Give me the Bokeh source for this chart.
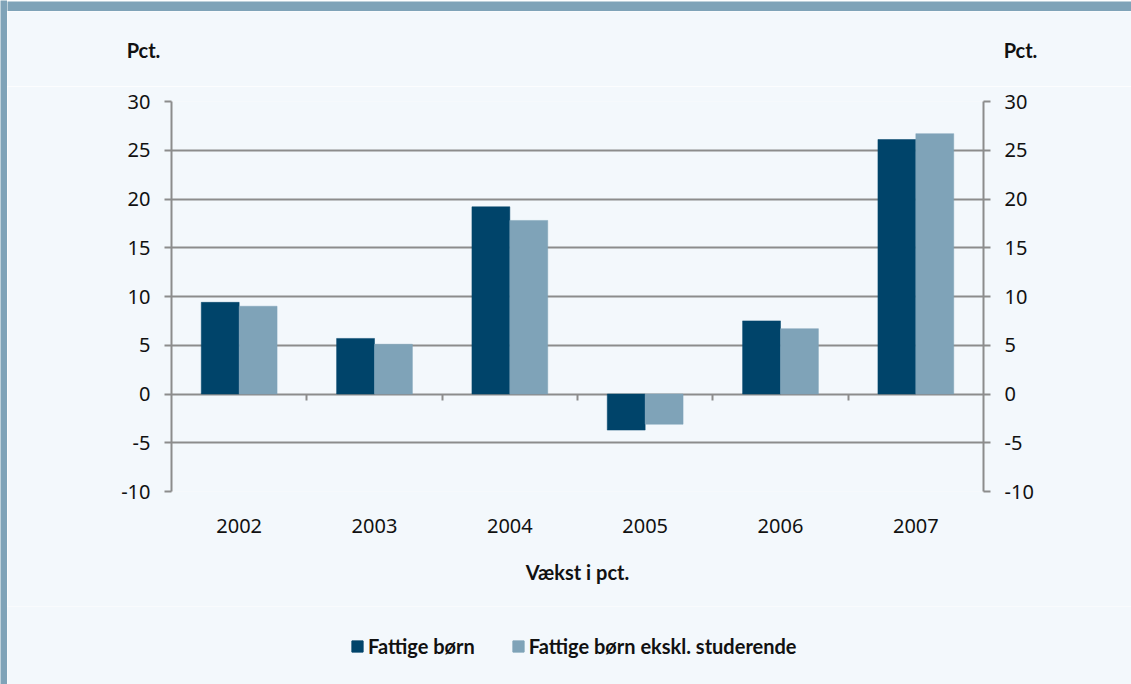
from bokeh.plotting import figure
from bokeh.layouts import row, column
from bokeh.models import (ColumnDataSource, Range1d, LinearAxis, FixedTicker,
                          Legend, LegendItem, Label)
from bokeh.embed import file_html
from bokeh.resources import INLINE

years = ["2002", "2003", "2004", "2005", "2006", "2007"]
fattige_boern = [9.4, 5.7, 19.2, -3.7, 7.5, 26.1]
fattige_ekskl_stud = [9.0, 5.1, 17.8, -3.1, 6.7, 26.7]
series_names = ["Fattige børn", "Fattige børn ekskl. studerende"]
y_ticks = [-10, -5, 0, 5, 10, 15, 20, 25, 30]
unit_label = "Pct."
x_title = "Vækst i pct."

DARK = "#00446a"
LIGHT = "#7fa3b8"
BG = "#f3f8fc"
GRID = "#8c8c8c"
TXT = "#111111"
TICK_FONT = "Noto Sans"
BOLD_FONT = "Lato"

W = 1124  # width right of the left strip


def panel(width, height, fill, **kw):
    f = figure(width=width, height=height, x_axis_type=None, y_axis_type=None,
               output_backend="svg", toolbar_location=None, min_border=0, **kw)
    f.frame_align = False
    f.background_fill_color = fill
    f.border_fill_color = fill
    f.outline_line_color = None
    f.grid.visible = False
    return f


# left strip and top band
strip = panel(7, 684, LIGHT)
band = panel(W, 11, LIGHT)

# header with the two "Pct." labels (page pixel coordinates)
header = panel(W, 75, BG, x_range=Range1d(7, 1131), y_range=Range1d(86, 11))
for xc in (143, 1020):
    header.add_layout(Label(x=xc, y=49, text=unit_label, text_font=BOLD_FONT,
                            text_font_style="bold", text_font_size="20px", text_color=TXT,
                            text_align="center", text_baseline="middle"))

# main chart
n = len(years)
centers = [i + 0.5 for i in range(n)]
bw = 0.28
src = ColumnDataSource(dict(xa=[c - bw / 2 for c in centers], xb=[c + bw / 2 for c in centers],
                            a=fattige_boern, b=fattige_ekskl_stud))

p = figure(x_range=Range1d(0, n), y_range=Range1d(-10, 30),
           frame_width=812, frame_height=390,
           output_backend="svg", toolbar_location=None)
p.min_border_left = 164
p.min_border_right = W - 164 - 812
p.min_border_top = 15
p.min_border_bottom = 115
p.background_fill_color = BG
p.border_fill_color = BG
p.outline_line_color = None

p.vbar(x="xa", top="a", bottom=0, width=bw, source=src,
       fill_color=DARK, line_color=DARK, line_width=0.5)
p.vbar(x="xb", top="b", bottom=0, width=bw, source=src,
       fill_color=LIGHT, line_color=LIGHT, line_width=0.5)

p.xgrid.grid_line_color = None
p.ygrid.ticker = FixedTicker(ticks=y_ticks)
p.ygrid.grid_line_color = GRID
p.ygrid.grid_line_width = 2

ytick_text = {t: str(t) for t in y_ticks}


def style_y(ax):
    ax.ticker = FixedTicker(ticks=y_ticks)
    ax.major_label_overrides = ytick_text
    ax.axis_line_color = GRID
    ax.axis_line_width = 2
    ax.major_tick_line_color = GRID
    ax.major_tick_line_width = 2
    ax.major_tick_out = 7
    ax.major_tick_in = 0
    ax.minor_tick_line_color = None
    ax.major_label_text_font = TICK_FONT
    ax.major_label_text_font_size = "20px"
    ax.major_label_text_color = TXT
    ax.major_label_standoff = 14


style_y(p.yaxis[0])
ra = LinearAxis()
style_y(ra)
p.add_layout(ra, "right")

xa = p.xaxis[0]
xa.ticker = FixedTicker(ticks=centers)
xa.major_label_overrides = {c: y for c, y in zip(centers, years)}
xa.axis_line_color = None
xa.major_tick_line_color = None
xa.minor_tick_line_color = None
xa.major_label_text_font = TICK_FONT
xa.major_label_text_font_size = "20px"
xa.major_label_text_color = TXT
xa.major_label_standoff = 21
xa.axis_label = x_title
xa.axis_label_text_font = BOLD_FONT
xa.axis_label_text_font_style = "bold"
xa.axis_label_text_font_size = "20px"
xa.axis_label_text_color = TXT
xa.axis_label_standoff = 24

# tick marks on the zero line at category boundaries
za = LinearAxis(fixed_location=0, ticker=FixedTicker(ticks=list(range(1, n))))
za.axis_line_color = None
za.major_tick_line_color = GRID
za.major_tick_line_width = 2
za.major_tick_out = 6
za.major_tick_in = 0
za.minor_tick_line_color = None
za.major_label_text_font_size = "0px"
za.major_label_text_alpha = 0
p.add_layout(za, "below")

# footer with the legend (zero-size proxy glyphs carry the legend swatches)
foot = panel(W, 78, BG, x_range=Range1d(0, 1), y_range=Range1d(0, 1))
proxy = ColumnDataSource(dict(x=[0], top=[0]))
g1 = foot.vbar(x="x", top="top", bottom=0, width=0, source=proxy,
               fill_color=DARK, line_color=DARK)
g2 = foot.vbar(x="x", top="top", bottom=0, width=0, source=proxy,
               fill_color=LIGHT, line_color=LIGHT)
legend = Legend(items=[LegendItem(label=series_names[0], renderers=[g1]),
                       LegendItem(label=series_names[1], renderers=[g2])],
                orientation="horizontal", location=(343, 26))
legend.background_fill_alpha = 0
legend.border_line_color = None
legend.label_text_font = BOLD_FONT
legend.label_text_font_style = "bold"
legend.label_text_font_size = "20px"
legend.label_text_color = TXT
legend.glyph_width = 14
legend.glyph_height = 14
legend.label_standoff = 4
legend.spacing = 36
legend.margin = 0
legend.padding = 5
foot.add_layout(legend)

layout = row(strip, column(band, header, p, foot, spacing=0), spacing=0)

open("out.html", "w").write(file_html(layout, INLINE))
